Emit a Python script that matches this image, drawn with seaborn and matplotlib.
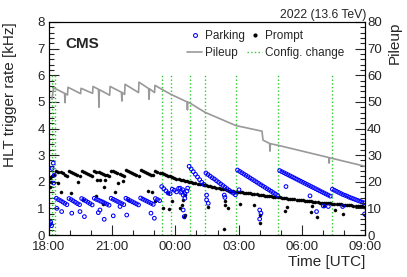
import numpy as np
import matplotlib
matplotlib.use("Agg")
import matplotlib.pyplot as plt
from matplotlib.lines import Line2D
from matplotlib.ticker import MultipleLocator
import seaborn as sns

# time axis: hours after 18:00 UTC
tick_hours = [0, 3, 6, 9, 12, 15]
tick_labels = ["18:00", "21:00", "00:00", "03:00", "06:00", "09:00"]

# sampling grid of the rate bands (one value per 6 minutes)
band_time = np.arange(0.05, 15.0, 0.1)

# prompt rate [kHz], one row per hour
prompt_rate = [
    2.15, 2.20, 2.25, 2.42, 2.38, 2.35, 2.31, 2.27, 2.23, 2.41,
    2.37, 2.33, 2.29, 2.26, 2.23, 2.41, 2.37, 2.33, 2.29, 2.25,
    2.22, 2.41, 2.38, 2.35, 2.32, 2.30, 2.27, 2.24, 2.22, 2.42,
    2.39, 2.35, 2.32, 2.29, 2.26, 2.23, 2.43, 2.39, 2.35, 2.31,
    2.28, 2.25, 2.23, 2.44, 2.40, 2.37, 2.33, 2.30, 2.27, 2.25,
    2.40, 2.37, 2.34, 2.32, 2.29, 2.26, 2.23, 2.20, 2.17, 2.15,
    2.12, 2.10, 2.08, 2.06, 2.04, 2.02, 2.00, 1.98, 1.97, 1.95,
    1.93, 1.92, 1.90, 1.89, 1.87, 1.85, 1.83, 1.82, 1.80, 1.78,
    1.76, 1.74, 1.72, 1.71, 1.69, 1.67, 1.66, 1.64, 1.63, 1.62,
    1.61, 1.60, 1.59, 1.58, 1.57, 1.56, 1.55, 1.54, 1.53, 1.52,
    1.51, 1.50, 1.48, 1.47, 1.46, 1.45, 1.44, 1.43, 1.42, 1.41,
    1.40, 1.39, 1.38, 1.37, 1.36, 1.35, 1.34, 1.33, 1.32, 1.31,
    1.30, 1.29, 1.28, 1.27, 1.26, 1.25, 1.24, 1.23, 1.22, 1.22,
    1.21, 1.20, 1.19, 1.19, 1.18, 1.17, 1.16, 1.16, 1.15, 1.14,
    1.13, 1.13, 1.12, 1.11, 1.10, 1.10, 1.09, 1.08, 1.08, 1.07,
]

# parking rate [kHz], one row per hour
parking_rate = [
    0.42, 2.50, 2.25, 1.38, 1.33, 1.29, 1.24, 1.19, 1.14, 1.37,
    1.33, 1.28, 1.23, 1.18, 1.14, 1.37, 1.33, 1.28, 1.23, 1.18,
    1.13, 1.38, 1.34, 1.31, 1.27, 1.24, 1.20, 1.16, 1.12, 1.38,
    1.34, 1.30, 1.26, 1.22, 1.18, 1.14, 1.38, 1.34, 1.29, 1.25,
    1.21, 1.17, 1.13, 1.39, 1.35, 1.31, 1.27, 1.23, 1.19, 1.15,
    1.37, 1.33, 1.29, 1.82, 1.74, 1.66, 1.58, 1.55, 1.72, 1.68,
    1.62, 1.75, 1.60, 1.70, 1.55, 1.65, 2.58, 2.48, 2.38, 2.28,
    2.18, 2.08, 1.98, 1.90, 2.33, 2.27, 2.21, 2.15, 2.10, 2.04,
    1.98, 1.92, 1.86, 1.80, 1.74, 1.68, 1.62, 1.57, 1.51, 2.44,
    2.39, 2.34, 2.29, 2.24, 2.19, 2.14, 2.09, 2.04, 1.99, 1.94,
    1.89, 1.84, 1.79, 1.74, 1.69, 1.64, 1.59, 1.54, 1.49, 2.42,
    2.38, 2.34, 2.30, 2.26, 2.22, 2.18, 2.14, 2.10, 2.06, 2.02,
    1.98, 1.94, 1.90, 1.86, 1.82, 1.78, 1.74, 1.70, 1.66, 1.62,
    1.58, 1.54, 1.50, 1.46, 1.72, 1.68, 1.64, 1.60, 1.56, 1.52,
    1.49, 1.46, 1.42, 1.39, 1.36, 1.33, 1.30, 1.27, 1.24, 1.21,
]

# isolated points away from the bands
prompt_extra_time = [0.05, 0.10, 0.41, 0.57, 1.04, 1.39, 1.63, 2.21, 2.26, 2.42, 2.58, 2.63, 2.66,
                     3.13, 3.26, 3.53, 3.73, 4.71, 4.90, 5.03, 5.43, 5.66, 5.70, 5.82, 6.22, 6.30,
                     6.34, 6.42, 6.45, 6.45, 7.56, 8.32, 8.35, 8.35, 8.51, 9.06, 9.73, 10.0, 10.0,
                     11.2, 11.28, 12.43, 12.47, 12.73, 13.05, 13.57, 13.94, 14.98]
prompt_extra_rate = [1.80, 2.00, 1.95, 1.63, 1.57, 1.99, 1.32, 1.48, 2.07, 2.07, 1.17, 1.79, 2.05,
                     1.60, 1.95, 2.01, 1.32, 1.67, 1.60, 1.26, 1.00, 1.57, 0.98, 1.26, 1.00, 1.13,
                     1.32, 0.69, 1.50, 0.75, 1.07, 0.22, 1.26, 1.13, 1.00, 1.17, 1.11, 0.75, 0.46,
                     0.92, 1.07, 0.88, 1.09, 0.67, 1.09, 0.94, 0.79, 0.75]
parking_extra_time = [0.0, 0.08, 0.12, 0.20, 0.22, 0.37, 0.60, 1.08, 1.47, 1.68, 2.34, 2.42, 2.62,
                      3.05, 3.37, 3.69, 4.84, 5.00, 6.22, 6.30, 6.37, 6.45, 6.37, 6.42, 6.58, 7.48,
                      7.48, 7.56, 8.32, 8.35, 9.02, 10.0, 10.06, 10.0, 11.25, 12.39, 12.70, 13.02,
                      13.26, 13.94, 14.98]
parking_extra_rate = [0.38, 0.48, 0.35, 2.70, 1.95, 1.00, 0.88, 0.82, 0.88, 0.69, 0.84, 0.94, 0.59,
                      0.72, 1.07, 0.75, 0.82, 0.63, 1.76, 1.63, 1.50, 1.38, 0.94, 0.69, 1.76, 1.50,
                      1.32, 1.19, 1.50, 1.41, 1.70, 0.94, 0.82, 0.60, 1.82, 1.47, 0.88, 1.09,
                      1.07, 1.07, 0.79]

# pileup (right axis)
pileup_time = [0.14, 0.22, 0.74, 0.76, 0.78, 0.88, 0.90, 1.50, 1.52, 2.07, 2.09, 2.35, 2.37, 2.39,
               2.88, 2.90, 3.44, 3.46, 3.48, 3.59, 3.61, 4.25, 4.27, 4.73, 4.75, 4.77, 5.01, 5.03,
               5.79, 6.55, 6.57, 6.59, 6.64, 7.40, 8.87, 10.11, 10.16, 10.47, 10.49, 10.51, 10.92,
               13.28, 13.30, 13.32, 13.38, 15.0]
pileup = [51.0, 55.3, 53.2, 49.7, 53.1, 52.6, 55.5, 53.1, 55.1, 53.2, 55.8, 54.7, 48.0, 54.6,
          52.5, 55.8, 53.6, 50.3, 53.5, 52.8, 56.6, 53.5, 57.4, 55.0, 51.0, 54.9, 53.5, 56.2,
          52.8, 50.0, 47.0, 49.9, 49.8, 46.1, 41.1, 39.0, 35.6, 34.4, 31.5, 34.3, 33.6,
          29.1, 27.0, 29.0, 28.9, 25.8]

# trigger configuration changes
config_change = [0.14, 0.28, 5.35, 5.79, 6.69, 7.40, 8.87, 10.88, 13.42]

sns.set_style("ticks")
plt.rcParams['font.family'] = ['Liberation Sans', 'DejaVu Sans']
plt.rcParams['font.size'] = 9.5

fig = plt.figure(figsize=(4.07, 2.77), dpi=100)
ax = fig.add_axes([0.1204, 0.1516, 0.7764, 0.769])
ax2 = ax.twinx()

green = '#2ecc2e'
ax.vlines(config_change, 0, 6, colors=green, linestyles=':', linewidth=1.0, zorder=1)

sns.scatterplot(x=band_time, y=prompt_rate, ax=ax, marker='o', s=5, color='black',
                edgecolor='black', linewidth=0.3, zorder=3)
sns.scatterplot(x=prompt_extra_time, y=prompt_extra_rate, ax=ax, marker='o', s=5, color='black',
                edgecolor='black', linewidth=0.3, zorder=3)
sns.scatterplot(x=band_time, y=parking_rate, ax=ax, marker='o', s=7, facecolors='none',
                edgecolors='blue', linewidth=0.75, zorder=4)
sns.scatterplot(x=parking_extra_time, y=parking_extra_rate, ax=ax, marker='o', s=7,
                facecolors='none', edgecolors='blue', linewidth=0.75, zorder=4)

sns.lineplot(x=pileup_time, y=pileup, ax=ax2, color='#999999', linewidth=1.2,
             estimator=None, sort=False)

ax.set_xlim(0, 15)
ax.set_ylim(0, 8)
ax2.set_ylim(0, 80)

ax.set_xticks(tick_hours)
ax.set_xticklabels(tick_labels)
ax.xaxis.set_minor_locator(MultipleLocator(1))
ax.yaxis.set_major_locator(MultipleLocator(1))
ax.yaxis.set_minor_locator(MultipleLocator(0.2))
ax2.yaxis.set_major_locator(MultipleLocator(10))
ax2.yaxis.set_minor_locator(MultipleLocator(2))

ax.tick_params(axis='both', which='major', direction='in', length=7, width=0.8,
               labelsize=9.5, right=False, top=False)
ax.tick_params(axis='both', which='minor', direction='in', length=3.5, width=0.8,
               right=False, top=False)
ax.tick_params(axis='x', pad=4.5)
ax.tick_params(axis='y', pad=3)
ax2.tick_params(axis='y', which='major', direction='in', length=7, width=0.8,
                labelsize=9.5, pad=1.5)
ax2.tick_params(axis='y', which='minor', direction='in', length=3.5, width=0.8)

for a in (ax, ax2):
    for sp in a.spines.values():
        sp.set_linewidth(0.8)
        sp.set_color('black')

ax.set_xlabel("Time [UTC]", fontsize=11, ha='right')
ax.xaxis.set_label_coords(1.0, -0.095)
ax.set_ylabel("HLT trigger rate [kHz]", fontsize=11, ha='right')
ax.yaxis.set_label_coords(-0.10, 1.0)
ax2.set_ylabel("Pileup", fontsize=11, ha='right')
ax2.yaxis.set_label_coords(1.073, 1.0)

ax.text(0.0506, 0.879, "CMS", transform=ax.transAxes, fontsize=11, fontweight='bold',
        va='baseline', ha='left')
ax.text(1.003, 1.017, "2022 (13.6 TeV)", transform=ax.transAxes, fontsize=8.8,
        va='baseline', ha='right')

handles = [
    Line2D([], [], linestyle='none', marker='o', markersize=2.8, markerfacecolor='none',
           markeredgecolor='blue', markeredgewidth=0.75),
    Line2D([], [], color='#999999', linewidth=1.2),
    Line2D([], [], linestyle='none', marker='o', markersize=2.0, color='black'),
    Line2D([], [], color=green, linestyle=':', linewidth=1.0),
]
labels = ["Parking", "Pileup", "Prompt", "Config. change"]
ax2.legend(handles, labels, ncol=2, frameon=False, fontsize=8.5, loc='upper left',
           bbox_to_anchor=(0.422, 0.985), borderaxespad=0, handlelength=1.3,
           handletextpad=0.2, columnspacing=0.2, labelspacing=0.4)

fig.savefig("out.png", dpi=100)
